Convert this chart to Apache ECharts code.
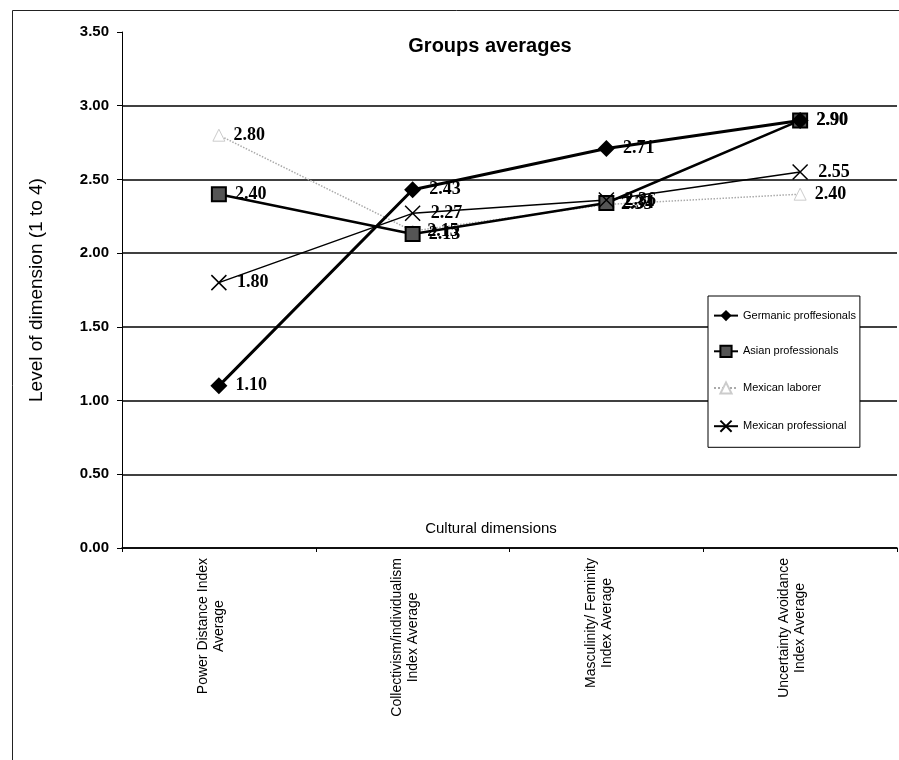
<!DOCTYPE html>
<html>
<head>
<meta charset="utf-8">
<script src="https://cdn.jsdelivr.net/npm/echarts@6/dist/echarts.min.js"></script>
<style>html,body{margin:0;padding:0;background:#fff}#c{width:899px;height:760px}</style>
</head>
<body>
<div id="c"></div>
<script>
var categories = [
  ["Power Distance Index", "Average"],
  ["Collectivism/individualism", "Index Average"],
  ["Masculinity/ Feminity", "Index Average"],
  ["Uncertainty Avoidance", "Index Average"]
];
var yTicks = [0, 0.5, 1, 1.5, 2, 2.5, 3, 3.5];
var seriesNames = ["Germanic proffesionals", "Asian professionals", "Mexican laborer", "Mexican professional"];
var germanic = [1.10, 2.43, 2.71, 2.90];
var asian = [2.40, 2.13, 2.34, 2.90];
var mexLaborer = [2.80, 2.15, 2.33, 2.40];
var mexProfessional = [1.80, 2.27, 2.36, 2.55];

var chart = echarts.init(document.getElementById('c'), null, {renderer: 'canvas'});
var catKeys = categories.map(function (c) { return c.join('\n'); });
var SANS = '"Liberation Sans", Arial, sans-serif';
var labelStyle = {
  show: true, position: 'right', distance: 8,
  fontFamily: '"Liberation Serif", "Times New Roman", serif',
  fontWeight: 'bold', fontSize: 18, color: '#000',
  formatter: function (p) { return p.value.toFixed(2); }
};
var xPath = 'path://M0,0L10,10M10,0L0,10';
var option = {
  backgroundColor: '#fff',
  animation: false,
  title: [
    {text: 'Groups averages', left: 485, top: 31, textAlign: 'center',
     textStyle: {fontFamily: SANS, fontSize: 20, fontWeight: 'bold', color: '#000'}},
    {text: 'Cultural dimensions', left: 486, top: 516, textAlign: 'center',
     textStyle: {fontFamily: SANS, fontSize: 15, fontWeight: 'normal', color: '#000'}}
  ],
  graphic: [
    {type: 'rect', left: 10, top: 8, shape: {width: 1000, height: 1000}, style: {fill: 'none', stroke: '#222', lineWidth: 1}, silent: true, z: -1}
  ],
  grid: {left: 122, right: 2, top: 32, bottom: 212, containLabel: false},
  legend: {
    orient: 'vertical', left: 708, top: 296,
    padding: [14, 4, 13, 5], itemGap: 23.5, itemWidth: 24, itemHeight: 14,
    backgroundColor: '#fff', borderColor: '#000', borderWidth: 1,
    textStyle: {fontFamily: SANS, fontSize: 11, color: '#000'},
    data: seriesNames
  },
  xAxis: {
    type: 'category', data: catKeys, boundaryGap: true,
    axisLine: {lineStyle: {color: '#000', width: 1.5}},
    axisTick: {show: true, length: 4, lineStyle: {color: '#000'}},
    axisLabel: {
      rotate: 90, margin: 10, interval: 0, padding: [0, 0, 15, 0],
      fontFamily: SANS, fontSize: 14, color: '#000', lineHeight: 16,
      formatter: function (v) {
        return v.split('\n').map(function (s) { return '{c|' + s + '}'; }).join('\n');
      },
      rich: {c: {align: 'center', fontFamily: SANS, fontSize: 14, color: '#000', lineHeight: 16}}
    },
    splitLine: {show: false}
  },
  yAxis: {
    type: 'value', min: yTicks[0], max: yTicks[yTicks.length - 1], interval: 0.5,
    name: 'Level of dimension (1 to 4)', nameLocation: 'middle', nameGap: 76, nameRotate: 90,
    nameTextStyle: {fontFamily: SANS, fontSize: 19, color: '#000'},
    axisLine: {show: true, lineStyle: {color: '#000', width: 1}},
    axisTick: {show: true, inside: false, length: 5, lineStyle: {color: '#000'}},
    axisLabel: {margin: 13, fontFamily: SANS, fontSize: 15, fontWeight: 'bold', color: '#000',
      formatter: function (v) { return v.toFixed(2); }},
    splitLine: {show: true, showMaxLine: false, lineStyle: {color: '#000', width: 1.5}}
  },
  series: [
    {name: seriesNames[0], type: 'line', data: germanic, z: 5,
     symbol: 'diamond', symbolSize: 17,
     lineStyle: {color: '#000', width: 3}, itemStyle: {color: '#000'}, label: labelStyle},
    {name: seriesNames[1], type: 'line', data: asian, z: 4,
     symbol: 'rect', symbolSize: 14,
     lineStyle: {color: '#000', width: 2.5}, itemStyle: {color: '#555', borderColor: '#000', borderWidth: 2}, label: labelStyle},
    {name: seriesNames[2], type: 'line', data: mexLaborer, z: 3,
     symbol: 'triangle', symbolSize: 12,
     lineStyle: {color: '#aaa', width: 1.5, type: 'dotted'}, itemStyle: {color: '#fff', borderColor: '#ccc', borderWidth: 1}, label: labelStyle},
    {name: seriesNames[3], type: 'line', data: mexProfessional, z: 4,
     symbol: xPath, symbolSize: 15, symbolKeepAspect: true,
     lineStyle: {color: '#000', width: 1.5}, itemStyle: {color: 'none', borderColor: '#000', borderWidth: 1.5}, label: labelStyle}
  ]
};
chart.setOption(option);
</script>
</body>
</html>
